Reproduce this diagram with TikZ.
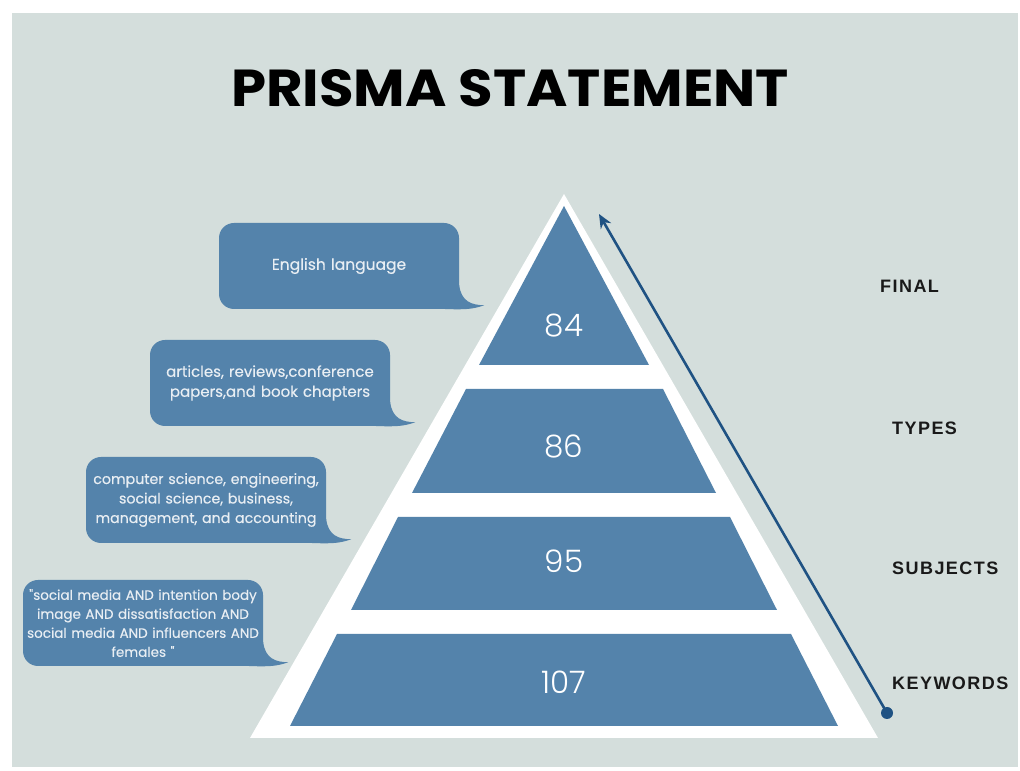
\documentclass[tikz,border=0pt]{standalone}
\usepackage{fontspec}
\setmainfont{Poppins}
\newfontfamily\numfont{Poppins Light}
\newfontfamily\bubblefont{Poppins}[FakeBold=0.3]
\newfontfamily\tagfont{Liberation Sans}[LetterSpace=8]
\usetikzlibrary{positioning,calc,arrows.meta}

\definecolor{bggrey}{HTML}{D4DEDC}
\definecolor{tierblue}{HTML}{5483AB}
\definecolor{arrowblue}{HTML}{1F5283}
\definecolor{bubbletext}{HTML}{E8EEF3}

\begin{document}
\begin{tikzpicture}[x=1pt, y=1pt,
  tier/.style={fill=tierblue},
  bubble/.style={fill=tierblue, rounded corners=15pt, minimum width=240pt, minimum height=86pt,
    text width=238pt, inner sep=0pt, align=center, text=bubbletext,
    font=\bubblefont\fontsize{13.5}{19}\selectfont},
  num/.style={font=\numfont\fontsize{31}{31}\selectfont, text=white},
  tag/.style={anchor=west, inner sep=0pt, font=\tagfont\bfseries\fontsize{18}{18}\selectfont, text=black!90},
  arrow/.style={-{Stealth[length=14pt, width=12pt]}, line width=2.6pt, draw=arrowblue},
]

% === CANVAS ===
\fill[white] (0,0) rectangle (1020,771);
\fill[bggrey] (12,4) rectangle (1018,758);
\useasboundingbox (0,0) rectangle (1020,771);

\node[xscale=1.08] (title) at (510,683) {\fontsize{52}{52}\selectfont\bfseries PRISMA STATEMENT};

% === PYRAMID ===
\fill[white] (250,33) -- (878,33) -- (564,577) -- cycle;
\fill[tier] (479,406) -- (649,406) -- (564,565) -- cycle;
\fill[tier] (412,278) -- (716,278) -- (663,382) -- (466,382) -- cycle;
\fill[tier] (351,161) -- (777,161) -- (730,254) -- (398,254) -- cycle;
\fill[tier] (290,45) -- (838,45) -- (791,137) -- (337,137) -- cycle;

\node[num] (final) at (564,445) {84};
\node[num] (types) at (564,325) {86};
\node[num] (subjects) at (564,210) {95};
\node[num] (keywords) at (564,89) {107};

% === ARROW UP THE RIGHT SIDE ===
\coordinate (dot) at (887,58);
\coordinate (top) at (599,557);
\draw[arrow] (dot) -- (top);
\fill[arrowblue] (dot) circle (6pt);

\node[tag] (tfinal) at (880,485) {FINAL};
\node[tag] (ttypes) at (892,343) {TYPES};
\node[tag] (tsubjects) at (892,203) {SUBJECTS};
\node[tag] (tkeywords) at (892,88) {KEYWORDS};

% === SPEECH BUBBLES ===
\node[bubble, font=\bubblefont\fontsize{15.5}{19}\selectfont] (b1) at (339,505) {English language\\[14pt]};
\node[bubble, font=\bubblefont\fontsize{15}{20}\selectfont] (b2) at (270,388) {articles, reviews,conference\\papers,and book chapters};
\node[bubble, font=\bubblefont\fontsize{14.2}{19.5}\selectfont] (b3) at (206,271) {computer science, engineering,\\social science, business,\\management, and accounting};
\node[bubble] (b4) at (143,148) {\symbol{34}social media AND intention body\\image AND dissatisfaction AND\\social media AND influencers AND\\females \symbol{34}};

\foreach \b in {b1,b2,b3,b4}
  \fill[tierblue] ($(\b.south east)+(0,24)$)
    .. controls ($(\b.south east)+(2,8)$) and ($(\b.south east)+(12,4)$) .. ($(\b.south east)+(25,4)$)
    .. controls ($(\b.south east)+(12,-1)$) and ($(\b.south east)+(2,0)$) .. ($(\b.south east)+(-14,0)$)
    -- cycle;
\end{tikzpicture}
\end{document}
